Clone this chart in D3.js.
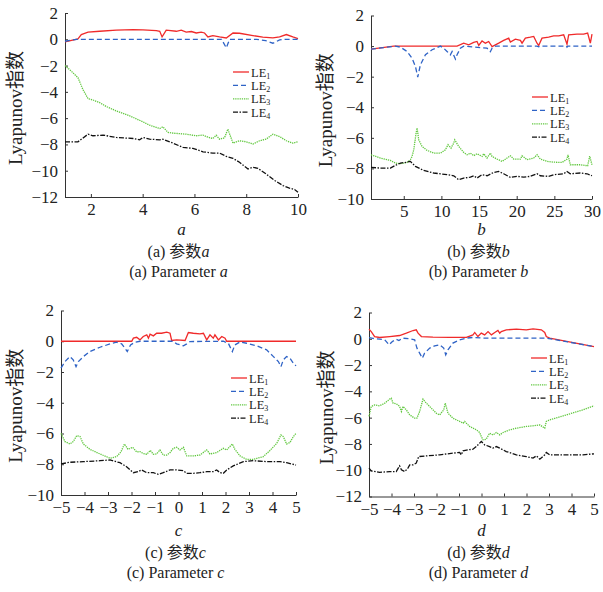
<!DOCTYPE html>
<html>
<head>
<meta charset="utf-8">
<script src="https://cdn.jsdelivr.net/npm/d3@7"></script>
<style>
  body { margin: 0; background: #fff; }
  svg text { font-family: "Liberation Serif", "Times New Roman", "Noto Sans CJK SC", serif; fill: #222; }
</style>
</head>
<body>
<svg id="chart" width="603" height="592"></svg>
<script>
// ---- data: [parameter, exponent] ----
const aLE1 = [[1,-0.2],[1.5,0.03],[1.63,0.36],[1.89,0.54],[2.34,0.61],[2.98,0.69],[3.63,0.74],[4.01,0.71],[4.53,0.66],[4.66,0.61],[4.75,0.18],[4.91,0.69],[5.3,0.61],[5.49,0.69],[5.68,0.54],[5.88,0.59],[6.07,0.48],[6.26,0.54],[6.39,0.48],[6.52,0.18],[6.71,0.28],[6.97,0.18],[7.23,0.1],[7.49,0.48],[7.74,0.46],[8.26,0.28],[8.64,0.16],[9.03,0.1],[9.29,0.18],[9.55,0.36],[9.8,0.18],[10,0.05]];
const aLE2 = [[1,-0.15],[1.45,0],[7.05,0],[7.23,-0.65],[7.36,0],[8.4,0],[8.75,-0.1],[9.03,-0.3],[9.29,-0.05],[9.5,0],[10,0]];
const aLE3 = [[1,-2.0],[1.24,-2.42],[1.5,-2.92],[1.69,-3.81],[1.89,-4.52],[2.08,-4.62],[2.34,-4.82],[2.6,-5.12],[2.98,-5.45],[3.5,-5.83],[4.01,-6.28],[4.27,-6.54],[4.53,-6.71],[4.66,-6.79],[4.78,-6.66],[4.98,-7.09],[5.17,-7.14],[5.68,-7.22],[6.07,-7.34],[6.33,-7.29],[6.52,-7.45],[6.71,-7.55],[6.84,-7.3],[6.97,-7.6],[7.16,-7.5],[7.29,-6.84],[7.49,-7.9],[7.74,-7.72],[8.0,-7.8],[8.26,-7.97],[8.52,-7.72],[8.77,-7.6],[9.03,-7.22],[9.29,-7.4],[9.55,-7.72],[9.8,-7.9],[10,-7.8]];
const aLE4 = [[1,-7.8],[1.5,-7.8],[1.89,-7.22],[2.08,-7.34],[2.47,-7.29],[2.98,-7.47],[3.63,-7.55],[3.88,-7.65],[4.01,-7.47],[4.27,-7.6],[4.66,-7.65],[4.78,-7.6],[5.17,-7.9],[5.56,-8.23],[5.94,-8.3],[6.33,-8.56],[6.71,-8.66],[6.97,-8.66],[7.23,-8.91],[7.49,-9.06],[7.74,-9.36],[8.07,-9.87],[8.26,-9.74],[8.45,-9.82],[8.77,-10.25],[9.1,-10.75],[9.42,-11.13],[9.67,-11.33],[9.87,-11.43],[10,-11.64]];

const bLE1 = [[0.65,-0.2],[3.67,0],[12.08,0],[12.96,0.19],[13.63,0.08],[14.29,0.24],[14.73,0.3],[14.96,0.04],[15.4,0.34],[15.84,0.19],[16.28,0.3],[16.73,-0.03],[17.17,0.08],[17.61,0.19],[18.27,0.37],[18.94,0.52],[19.16,0.26],[19.82,0.45],[20.49,0.37],[20.71,0.19],[21.15,0.52],[21.81,0.58],[22.26,0.63],[22.7,0.19],[22.92,0.04],[23.36,0.52],[24.25,0.58],[24.91,0.67],[25.58,0.67],[26.24,0.74],[26.68,0.13],[26.9,0.74],[28.01,0.78],[28.89,0.78],[29.42,0.85],[29.78,0.2],[30,0.78]];
const bLE2 = [[0.65,-0.2],[3.9,0],[4.56,-0.07],[5.44,-0.35],[6.1,-0.79],[6.55,-1.33],[6.86,-2.03],[7.21,-1.22],[7.88,-0.57],[8.76,-0.24],[9.87,0],[10.31,-0.14],[10.75,-0.35],[11.19,-0.57],[11.42,-0.35],[11.86,-0.85],[12.08,-0.57],[12.52,-0.14],[12.96,0],[16.06,-0.14],[16.5,-0.37],[16.73,-0.14],[17.17,0],[22.7,0],[22.92,-0.05],[23.1,0],[26.6,0],[26.68,-0.07],[26.8,0],[30,0]];
const bLE3 = [[0.65,-7.11],[1.9,-7.32],[3.23,-7.48],[3.9,-7.65],[4.56,-7.69],[5.44,-7.61],[5.88,-7.43],[6.1,-7.22],[6.33,-6.78],[6.64,-5.69],[6.77,-5.36],[6.99,-6.13],[7.43,-6.56],[8.1,-6.82],[8.98,-7.0],[9.87,-7.0],[10.53,-6.78],[10.88,-6.45],[11.28,-6.67],[11.64,-6.34],[11.77,-6.13],[12.3,-6.56],[12.96,-6.95],[13.41,-7.11],[13.85,-7.0],[14.29,-7.17],[14.73,-7.04],[15.4,-7.22],[15.62,-7.04],[16.06,-7.32],[16.5,-7.0],[16.73,-7.22],[17.39,-7.39],[18.05,-7.54],[18.72,-7.32],[19.16,-7.17],[19.6,-7.39],[20.49,-7.39],[20.71,-7.17],[21.37,-7.43],[22.26,-7.32],[22.7,-7.11],[23.14,-7.39],[24.03,-7.54],[24.91,-7.59],[26.02,-7.61],[26.68,-7.39],[26.81,-7.11],[27.12,-7.76],[28.45,-7.76],[29.42,-7.83],[29.69,-7.2],[30,-7.76]];
const bLE4 = [[0.65,-7.93],[1.9,-7.98],[3.23,-7.98],[3.9,-7.8],[4.56,-7.65],[5.22,-7.61],[5.88,-7.54],[6.55,-7.87],[7.65,-8.13],[8.98,-8.3],[10.75,-8.41],[11.64,-8.48],[12.3,-8.74],[12.96,-8.63],[13.85,-8.57],[14.29,-8.48],[14.73,-8.63],[15.4,-8.41],[16.06,-8.48],[16.95,-8.26],[17.61,-8.2],[18.27,-8.35],[19.16,-8.59],[20.04,-8.52],[20.93,-8.57],[21.81,-8.52],[22.7,-8.35],[23.14,-8.48],[24.25,-8.52],[24.91,-8.41],[26.24,-8.35],[26.68,-8.2],[27.12,-8.35],[28.45,-8.3],[29.34,-8.35],[30,-8.48]];

const cLE1 = [[-5,0],[-1.99,0],[-1.92,0.2],[-1.78,0.26],[-1.64,0.09],[-1.5,0.31],[-1.35,0.42],[-1.28,0.2],[-1.21,0.46],[-1.07,0.35],[-0.93,0.52],[-0.72,0.52],[-0.5,0.59],[-0.36,0.52],[-0.29,0.05],[-0.08,0.09],[0.28,0.05],[0.42,0.57],[0.63,0.52],[0.91,0.48],[1.06,0.52],[1.2,0.09],[1.34,0.42],[1.48,0.2],[1.55,0.42],[1.7,0.09],[1.84,0.31],[1.98,0.2],[2.05,0],[5,0]];
const cLE2 = [[-5,-1.75],[-4.83,-1.32],[-4.62,-1.0],[-4.48,-1.21],[-4.36,-1.65],[-4.26,-1.32],[-4.05,-1.0],[-3.77,-0.67],[-3.34,-0.39],[-2.91,-0.17],[-2.63,-0.06],[-2.42,-0.17],[-2.28,-0.45],[-2.18,-0.67],[-2.04,-0.24],[-1.85,-0.06],[-1.64,0],[-0.22,0],[-0.08,-0.17],[0.21,-0.3],[0.35,-0.17],[0.49,-0.02],[1.91,0],[2.12,-0.13],[2.29,-0.67],[2.4,-0.24],[2.62,-0.04],[2.9,-0.13],[3.33,-0.3],[3.75,-0.56],[4.04,-1.0],[4.25,-1.32],[4.36,-1.65],[4.46,-1.21],[4.6,-1.0],[4.74,-1.1],[4.89,-1.43],[5,-1.6]];
const cLE3 = [[-5,-5.99],[-4.83,-6.53],[-4.62,-6.68],[-4.48,-6.53],[-4.33,-6.14],[-4.19,-6.2],[-4.05,-6.68],[-3.77,-7.03],[-3.34,-7.33],[-2.91,-7.61],[-2.63,-7.5],[-2.45,-7.2],[-2.3,-6.68],[-2.15,-7.03],[-1.95,-6.9],[-1.78,-7.2],[-1.64,-7.18],[-1.5,-7.3],[-1.35,-7.35],[-1.2,-7.1],[-1.07,-7.35],[-0.93,-7.33],[-0.79,-7.07],[-0.65,-7.4],[-0.5,-7.4],[-0.36,-7.24],[-0.22,-6.96],[-0.08,-6.9],[0.06,-7.07],[0.21,-6.9],[0.35,-7.46],[0.63,-7.46],[0.91,-7.4],[1.2,-7.07],[1.34,-7.33],[1.62,-7.24],[1.91,-6.96],[2.05,-7.07],[2.29,-6.68],[2.4,-7.03],[2.62,-7.46],[2.9,-7.68],[3.18,-7.68],[3.61,-7.5],[3.89,-7.11],[4.18,-6.64],[4.36,-6.1],[4.46,-6.2],[4.6,-6.68],[4.74,-6.59],[4.89,-6.2],[5,-5.99]];
const cLE4 = [[-5,-7.98],[-4.62,-7.87],[-4.05,-7.83],[-3.34,-7.77],[-2.91,-7.72],[-2.49,-7.9],[-2.21,-8.16],[-1.92,-8.55],[-1.71,-8.48],[-1.57,-8.37],[-1.35,-8.55],[-1.07,-8.55],[-0.86,-8.66],[-0.65,-8.55],[-0.36,-8.37],[-0.08,-8.37],[0.21,-8.42],[0.35,-8.59],[0.63,-8.59],[0.91,-8.55],[1.2,-8.48],[1.48,-8.48],[1.62,-8.37],[1.77,-8.55],[1.91,-8.59],[2.05,-8.37],[2.33,-8.11],[2.76,-7.83],[3.18,-7.77],[3.75,-7.83],[4.32,-7.83],[4.6,-7.9],[5,-8.05]];

const dLE1 = [[-5,0.73],[-4.9,0.55],[-4.75,0.17],[-4.53,0.1],[-4.08,0.17],[-3.64,0.25],[-3.34,0.43],[-3.04,0.63],[-2.9,0.68],[-2.82,0.43],[-2.67,0.17],[-2.16,0.12],[-1.41,0.1],[-0.67,0.1],[-0.38,0.3],[-0.3,0.48],[-0.16,0.17],[-0.01,0.43],[0.14,0.3],[0.29,0.55],[0.44,0.3],[0.59,0.48],[0.73,0.63],[0.81,0.43],[0.88,0.55],[1.1,0.68],[1.55,0.73],[1.99,0.68],[2.29,0.76],[2.66,0.68],[2.81,0.48],[2.88,0.17],[3.03,0.05],[5,-0.59]];
const dLE2 = [[-5,0.09],[-4.82,0.03],[-4.53,-0.03],[-4.3,-0.08],[-4.11,-0.46],[-3.96,-0.21],[-3.79,-0.03],[-3.67,-0.13],[-3.52,0.05],[-3.19,0],[-2.97,-0.08],[-2.87,-0.71],[-2.75,-1.09],[-2.63,-1.47],[-2.53,-1.09],[-2.3,-0.71],[-2.08,-0.54],[-1.86,-0.46],[-1.68,-0.71],[-1.59,-1.22],[-1.49,-0.84],[-1.27,-0.33],[-0.97,-0.08],[-0.67,0.05],[-0.38,0.1],[0.07,0.05],[2.88,0.05],[5,-0.59]];
const dLE3 = [[-5,-5.91],[-4.9,-5.15],[-4.75,-5.03],[-4.53,-5.1],[-4.3,-4.9],[-4.08,-4.59],[-4.01,-4.52],[-3.93,-4.9],[-3.79,-4.95],[-3.71,-5.03],[-3.64,-5.15],[-3.56,-5.53],[-3.49,-5.15],[-3.34,-5.41],[-3.19,-5.79],[-2.97,-6.04],[-2.87,-6.04],[-2.75,-5.53],[-2.6,-4.59],[-2.45,-4.9],[-2.23,-5.28],[-2.01,-5.66],[-1.86,-5.79],[-1.68,-5.41],[-1.61,-4.9],[-1.49,-5.66],[-1.27,-6.04],[-0.97,-6.29],[-0.82,-6.42],[-0.75,-6.29],[-0.53,-6.67],[-0.23,-6.93],[-0.08,-7.13],[-0.01,-7.43],[0.07,-7.69],[0.21,-7.64],[0.36,-7.18],[0.51,-7.31],[0.66,-7.13],[0.81,-7.31],[0.96,-7.13],[1.25,-6.93],[1.55,-6.8],[1.99,-6.67],[2.29,-6.62],[2.59,-6.55],[2.81,-6.8],[2.88,-6.29],[3.03,-6.17],[3.77,-5.79],[4.51,-5.41],[5,-5.1]];
const dLE4 = [[-5,-9.84],[-4.9,-10.05],[-4.53,-10.17],[-4.08,-10.1],[-3.79,-10.1],[-3.64,-9.67],[-3.56,-9.97],[-3.41,-10.1],[-3.27,-9.84],[-3.19,-9.59],[-3.04,-9.59],[-2.9,-9.46],[-2.79,-8.96],[-2.45,-8.91],[-1.86,-8.83],[-1.27,-8.7],[-0.97,-8.65],[-0.9,-8.83],[-0.82,-8.52],[-0.6,-8.45],[-0.38,-8.4],[-0.23,-8.2],[-0.01,-7.81],[0.14,-8.07],[0.36,-8.2],[0.51,-8.32],[0.66,-8.2],[0.81,-8.32],[1.1,-8.58],[1.55,-8.83],[1.99,-8.96],[2.29,-9.08],[2.44,-8.91],[2.59,-9.16],[2.81,-8.83],[2.88,-8.65],[3.03,-8.83],[3.77,-8.83],[4.51,-8.83],[5,-8.75]];

// tick values
const aXTicks = [2, 4, 6, 8, 10];
const bXTicks = [5, 10, 15, 20, 25, 30];
const cdXTicks = [-5, -4, -3, -2, -1, 0, 1, 2, 3, 4, 5];
const y12Ticks = [2, 0, -2, -4, -6, -8, -10, -12];
const y10Ticks = [2, 0, -2, -4, -6, -8, -10];

const seriesNames = ['LE1', 'LE2', 'LE3', 'LE4'];
const yTitle = 'Lyapunov指数';

// line styles per series
const styles = [
  { color: '#f02a2a', dash: null },
  { color: '#2f63c6', dash: '5,3' },
  { color: '#62c840', dash: '1.3,0.9' },
  { color: '#111111', dash: '5,1.5,1.5,1.5' },
];

const panels = [
  { tag: 'a', series: [aLE1, aLE2, aLE3, aLE4], xDom: [1, 10], yDom: [-12, 2], xTicks: aXTicks, yTicks: y12Ticks,
    left: 65, right: 298, top: 13, bottom: 197, legX: 233, legY: 72, titleX: 22, row: 0 },
  { tag: 'b', series: [bLE1, bLE2, bLE3, bLE4], xDom: [0.65, 30], yDom: [-10, 2], xTicks: bXTicks, yTicks: y10Ticks,
    left: 371, right: 592, top: 15.5, bottom: 199, legX: 532, legY: 97, titleX: 332, row: 0 },
  { tag: 'c', series: [cLE1, cLE2, cLE3, cLE4], xDom: [-5, 5], yDom: [-10, 2], xTicks: cdXTicks, yTicks: y10Ticks,
    left: 61, right: 296, top: 310.5, bottom: 495, legX: 231, legY: 378, titleX: 22, row: 1 },
  { tag: 'd', series: [dLE1, dLE2, dLE3, dLE4], xDom: [-5, 5], yDom: [-12, 2], xTicks: cdXTicks, yTicks: y12Ticks,
    left: 369, right: 594, top: 312.5, bottom: 496.5, legX: 531, legY: 358, titleX: 333, row: 1 },
];

const svg = d3.select('#chart');

panels.forEach(p => {
  const x = d3.scaleLinear().domain(p.xDom).range([p.left, p.right]);
  const y = d3.scaleLinear().domain(p.yDom).range([p.bottom, p.top]);
  const g = svg.append('g').attr('class', 'panel-' + p.tag);

  // axes, ticks pointing inward
  const xAxis = d3.axisBottom(x).tickValues(p.xTicks).tickSize(-3).tickSizeOuter(0).tickPadding(6);
  const yAxis = d3.axisLeft(y).tickValues(p.yTicks).tickSize(-3).tickSizeOuter(0).tickPadding(7);

  const gx = g.append('g').attr('transform', `translate(0,${p.bottom})`).call(xAxis);
  const gy = g.append('g').attr('transform', `translate(${p.left},0)`).call(yAxis);
  [gx, gy].forEach(ax => {
    ax.select('.domain').attr('stroke', '#333').attr('stroke-width', 1);
    ax.selectAll('.tick line').attr('stroke', '#333');
    ax.selectAll('.tick text').style('font-size', '17px').attr('fill', '#222');
  });

  // curves
  const line = d3.line().x(d => x(d[0])).y(d => y(d[1]));
  p.series.forEach((s, i) => {
    g.append('path')
      .datum(s)
      .attr('fill', 'none')
      .attr('stroke', styles[i].color)
      .attr('stroke-width', 1.3)
      .attr('stroke-dasharray', styles[i].dash)
      .attr('d', line);
  });

  // legend
  const leg = g.append('g').attr('transform', `translate(${p.legX},${p.legY})`);
  seriesNames.forEach((name, i) => {
    const row = leg.append('g').attr('transform', `translate(0,${i * 13.4})`);
    row.append('line')
      .attr('x1', 0).attr('x2', 16).attr('y1', 0).attr('y2', 0)
      .attr('stroke', styles[i].color)
      .attr('stroke-width', 1.3)
      .attr('stroke-dasharray', styles[i].dash);
    const t = row.append('text').attr('x', 18).attr('y', 4.5).style('font-size', '12.5px');
    t.append('tspan').text(name.slice(0, 2));
    t.append('tspan').attr('dy', 2).style('font-size', '8px').text(name.slice(2));
  });

  // y title
  const cy = (p.top + p.bottom) / 2 + 3;
  g.append('text')
    .attr('transform', `translate(${p.titleX},${cy}) rotate(-90)`)
    .attr('text-anchor', 'middle')
    .style('font-size', '19px')
    .text(yTitle);

  // x letter and captions
  const cx = (p.left + p.right) / 2;
  const base = p.row === 0 ? 235 : 536;
  g.append('text')
    .attr('x', cx).attr('y', base)
    .attr('text-anchor', 'middle')
    .style('font-size', '17px').style('font-style', 'italic')
    .text(p.tag);

  const cap1 = g.append('text')
    .attr('x', cx - 3).attr('y', base + 22)
    .attr('text-anchor', 'middle')
    .style('font-size', '16px');
  cap1.append('tspan').text(`(${p.tag}) 参数`);
  cap1.append('tspan').style('font-style', 'italic').text(p.tag);

  const cap2 = g.append('text')
    .attr('x', cx - 3).attr('y', base + 42)
    .attr('text-anchor', 'middle')
    .style('font-size', '16px');
  cap2.append('tspan').text(`(${p.tag}) Parameter `);
  cap2.append('tspan').style('font-style', 'italic').text(p.tag);
});
</script>
</body>
</html>
